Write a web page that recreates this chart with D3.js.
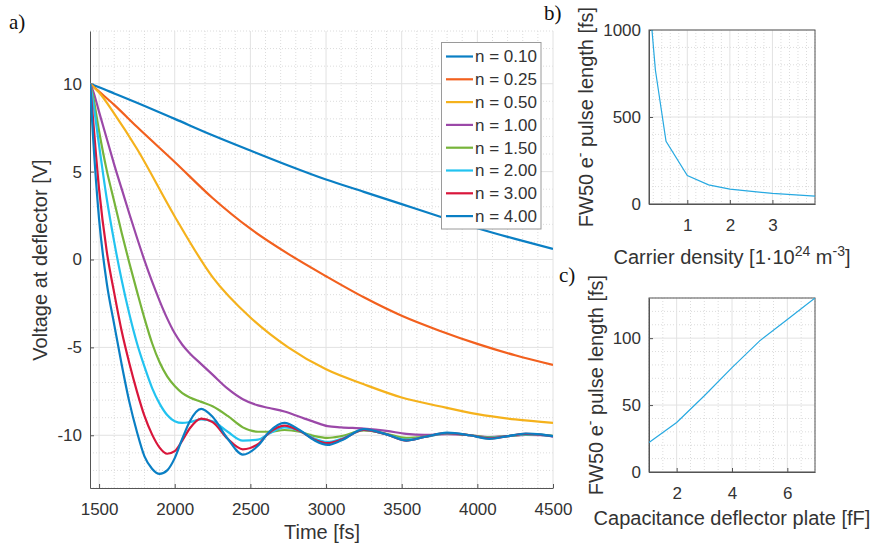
<!DOCTYPE html>
<html>
<head>
<meta charset="utf-8">
<script src="https://cdn.jsdelivr.net/npm/d3@7"></script>
<style>
  body { margin: 0; background: #fff; }
  svg { display: block; font-family: "Liberation Sans", Arial, Helvetica, sans-serif; }
</style>
</head>
<body>
<div id="chart"></div>
<script>
const W = 879, H = 553;

// ---- a) voltage at deflector vs time ----
const seriesLabels = ["n = 0.10", "n = 0.25", "n = 0.50", "n = 1.00", "n = 1.50", "n = 2.00", "n = 3.00", "n = 4.00"];
const seriesColors = ["#0a7fc4", "#f2601e", "#f5b21c", "#9b48a8", "#77b43a", "#22c3f0", "#d9163b", "#0a7fc4"];

// slow curves share this time grid
const timeSlow = [1440, 1500, 1600, 1750, 2000, 2250, 2500, 2750, 3000, 3250, 3500, 3750, 4000, 4250, 4500];
const v010 = [10, 9.8, 9.45, 8.92, 8.0, 7.07, 6.2, 5.35, 4.55, 3.85, 3.15, 2.45, 1.78, 1.17, 0.6];
const v025 = [10, 9.55, 8.8, 7.55, 5.55, 3.5, 1.75, 0.32, -0.95, -2.15, -3.2, -4.05, -4.8, -5.45, -6.0];
const v050 = [10, 9.5, 8.3, 6.3, 2.45, -1.0, -3.3, -5.0, -6.25, -7.1, -7.85, -8.35, -8.8, -9.1, -9.3];

// fast (ringing) curves share a denser grid
const timeFast = [1440, 1460, 1500, 1550, 1600, 1650, 1700, 1750, 1800, 1850, 1900, 1950, 2000, 2050, 2100,
  2175, 2250, 2350, 2450, 2550, 2625, 2725, 2825, 2925, 3010, 3100, 3250, 3400, 3530, 3650, 3800, 3950,
  4080, 4200, 4320, 4420, 4500];
const v100 = [10, 9.6, 8.4, 6.9, 5.4, 4.0, 2.6, 1.25, -0.05, -1.25, -2.35, -3.35, -4.2, -4.85, -5.35,
  -5.95, -6.55, -7.35, -7.95, -8.3, -8.45, -8.65, -8.95, -9.25, -9.48, -9.55, -9.62, -9.75, -9.92, -9.98, -9.93, -10.0,
  -10.1, -10.05, -9.98, -10.0, -10.08];
const v150 = [10, 9.3, 7.3, 5.1, 3.3, 1.5, -0.2, -1.8, -3.35, -4.75, -5.85, -6.65, -7.2, -7.6, -7.85,
  -8.1, -8.35, -8.9, -9.55, -9.8, -9.8, -9.7, -9.8, -10.05, -10.15, -10.05, -9.72, -9.92, -10.15, -10.08, -9.9, -10.0,
  -10.12, -10.05, -9.97, -9.98, -10.03];
const v200 = [10, 9.0, 6.5, 3.5, 1.0, -1.2, -3.1, -4.75, -6.1, -7.3, -8.2, -8.85, -9.2, -9.3, -9.25,
  -9.1, -9.2, -9.8, -10.3, -10.25, -9.9, -9.55, -9.75, -10.2, -10.38, -10.2, -9.7, -9.95, -10.25, -10.1, -9.9, -10.0,
  -10.15, -10.05, -9.95, -9.98, -10.05];
const v300 = [10, 8.0, 4.0, 0.5, -1.9, -4.1, -5.9, -7.5, -8.9, -9.95, -10.7, -11.05, -10.9, -10.3, -9.6,
  -9.05, -9.25, -10.2, -10.8, -10.5, -9.85, -9.45, -9.75, -10.25, -10.45, -10.25, -9.7, -9.95, -10.3, -10.1, -9.88, -10.0,
  -10.18, -10.05, -9.92, -9.97, -10.05];
const v400 = [10, 7.0, 2.3, -1.3, -3.7, -6.0, -8.1, -9.8, -11.2, -11.9, -12.2, -12.0, -11.3, -10.2, -9.2,
  -8.5, -8.95, -10.2, -11.1, -10.6, -9.8, -9.3, -9.7, -10.3, -10.55, -10.3, -9.65, -9.95, -10.3, -10.1, -9.85, -10.0,
  -10.2, -10.05, -9.9, -9.95, -10.05];

const seriesTimes = [timeSlow, timeSlow, timeSlow, timeFast, timeFast, timeFast, timeFast, timeFast];
const seriesValues = [v010, v025, v050, v100, v150, v200, v300, v400];

const timeTicks = [1500, 2000, 2500, 3000, 3500, 4000, 4500];
const voltTicks = [-10, -5, 0, 5, 10];

// ---- b) pulse length vs carrier density ----
const densityX = [0.1, 0.25, 0.5, 1, 1.5, 2, 3, 4];
const densityFW50 = [1200, 770, 360, 163, 110, 86, 61, 45];
const densityTicks = [1, 2, 3];
const densityYTicks = [0, 500, 1000];

// ---- c) pulse length vs capacitance ----
const capX = [1, 2, 3, 4, 5, 6, 7];
const capFW50 = [22, 37, 57, 78, 98, 114, 130];
const capTicks = [2, 4, 6];
const capYTicks = [0, 50, 100];

const svg = d3.select("#chart").append("svg")
  .attr("width", W).attr("height", H);

const textColor = "#333";
const axisColor = "#555";
const tickFont = 17;
const labelFont = 20;

function near(a, list) { return list.some(v => Math.abs(v - a) < 1e-6); }

function panel(opt) {
  const x = d3.scaleLinear().domain(opt.xDomain).range([opt.left, opt.right]);
  const y = d3.scaleLinear().domain(opt.yDomain).range([opt.bottom, opt.top]);
  const g = svg.append("g");

  // minor grid (dotted)
  const xMinor = d3.range(opt.xMinor[0], opt.xDomain[1] + 1e-9, opt.xMinor[1])
    .filter(v => v >= opt.xDomain[0] && !near(v, opt.xTicks));
  const yMinor = d3.range(opt.yMinor[0], opt.yDomain[1] + 1e-9, opt.yMinor[1])
    .filter(v => v >= opt.yDomain[0] && !near(v, opt.yTicks));
  g.selectAll(".xmin").data(xMinor).join("line")
    .attr("x1", d => x(d)).attr("x2", d => x(d))
    .attr("y1", opt.top).attr("y2", opt.bottom)
    .attr("stroke", "#dcdcdc").attr("stroke-dasharray", "1,2").attr("stroke-width", 1);
  g.selectAll(".ymin").data(yMinor).join("line")
    .attr("y1", d => y(d)).attr("y2", d => y(d))
    .attr("x1", opt.left).attr("x2", opt.right)
    .attr("stroke", "#dcdcdc").attr("stroke-dasharray", "1,2").attr("stroke-width", 1);

  // major grid
  g.selectAll(".xmaj").data(opt.xTicks).join("line")
    .attr("x1", d => x(d)).attr("x2", d => x(d))
    .attr("y1", opt.top).attr("y2", opt.bottom)
    .attr("stroke", "#e2e2e2").attr("stroke-width", 1);
  g.selectAll(".ymaj").data(opt.yTicks).join("line")
    .attr("y1", d => y(d)).attr("y2", d => y(d))
    .attr("x1", opt.left).attr("x2", opt.right)
    .attr("stroke", "#e2e2e2").attr("stroke-width", 1);

  const clipId = "clip" + opt.id;
  svg.append("clipPath").attr("id", clipId).append("rect")
    .attr("x", opt.left).attr("y", opt.top)
    .attr("width", opt.right - opt.left).attr("height", opt.bottom - opt.top);

  // plain hyphen minus, like the original figure
  const fmt = d => String(d);
  const xAxis = d3.axisBottom(x).tickValues(opt.xTicks).tickFormat(fmt)
    .tickSizeInner(-4).tickSizeOuter(0).tickPadding(15);
  const yAxis = d3.axisLeft(y).tickValues(opt.yTicks).tickFormat(fmt)
    .tickSizeInner(-4).tickSizeOuter(0).tickPadding(8);

  const gx = g.append("g").attr("transform", `translate(0,${opt.bottom})`).call(xAxis);
  const gy = g.append("g").attr("transform", `translate(${opt.left},0)`).call(yAxis);
  [gx, gy].forEach(a => {
    a.select(".domain").attr("stroke", axisColor);
    a.selectAll(".tick line").attr("stroke", axisColor);
    a.selectAll("text").attr("fill", textColor).attr("font-size", tickFont)
      .attr("font-family", "Liberation Sans, Arial, sans-serif");
  });

  if (opt.box) {
    g.append("rect")
      .attr("x", opt.left).attr("y", opt.top)
      .attr("width", opt.right - opt.left).attr("height", opt.bottom - opt.top)
      .attr("fill", "none").attr("stroke", axisColor).attr("stroke-width", 1);
  }
  return { x, y, g, clipId };
}

// ---------- panel a ----------
const pa = panel({
  id: "a", left: 90, right: 553, top: 31, bottom: 488,
  xDomain: [1440, 4500], yDomain: [-13, 13],
  xTicks: timeTicks, yTicks: voltTicks,
  xMinor: [1500, 100], yMinor: [-13, 1], box: false
});

const lineA = d3.line().x(d => pa.x(d[0])).y(d => pa.y(d[1])).curve(d3.curveMonotoneX);
const linesA = svg.append("g").attr("clip-path", `url(#${pa.clipId})`);
seriesValues.forEach((vals, i) => {
  const pts = vals.map((v, k) => [seriesTimes[i][k], v]);
  linesA.append("path").datum(pts)
    .attr("d", lineA)
    .attr("fill", "none")
    .attr("stroke", seriesColors[i])
    .attr("stroke-width", 2.2)
    .attr("stroke-linejoin", "round");
});

// legend
const leg = svg.append("g");
leg.append("rect")
  .attr("x", 441.5).attr("y", 42.5).attr("width", 99.5).attr("height", 186.5)
  .attr("fill", "#fff").attr("stroke", "#9a9a9a").attr("stroke-width", 1);
seriesLabels.forEach((lab, i) => {
  const yy = 56.5 + i * 22.8;
  leg.append("line").attr("x1", 446).attr("x2", 473).attr("y1", yy).attr("y2", yy)
    .attr("stroke", seriesColors[i]).attr("stroke-width", 2.2);
  leg.append("text").attr("x", 475).attr("y", yy).attr("dy", "0.35em")
    .attr("font-size", 17).attr("fill", textColor).text(lab);
});

svg.append("text").attr("x", 322).attr("y", 539).attr("text-anchor", "middle")
  .attr("font-size", labelFont).attr("fill", textColor).text("Time [fs]");
svg.append("text").attr("transform", "translate(47,260) rotate(-90)").attr("text-anchor", "middle")
  .attr("font-size", labelFont).attr("fill", textColor).text("Voltage at deflector [V]");

// ---------- panel b ----------
const pb = panel({
  id: "b", left: 649, right: 815, top: 30, bottom: 204,
  xDomain: [0.1, 4], yDomain: [0, 1000],
  xTicks: densityTicks, yTicks: densityYTicks,
  xMinor: [0.2, 0.2], yMinor: [0, 100], box: true
});
svg.append("path")
  .datum(densityX.map((d, i) => [d, densityFW50[i]]))
  .attr("clip-path", `url(#${pb.clipId})`)
  .attr("d", d3.line().x(d => pb.x(d[0])).y(d => pb.y(d[1])))
  .attr("fill", "none").attr("stroke", "#27a9e1").attr("stroke-width", 1.2);

const bx = svg.append("text").attr("x", 732).attr("y", 264).attr("text-anchor", "middle")
  .attr("font-size", labelFont).attr("fill", textColor);
bx.append("tspan").text("Carrier density [1\u00b710");
bx.append("tspan").attr("dy", -8).attr("font-size", 14).text("24");
bx.append("tspan").attr("dy", 8).text(" m");
bx.append("tspan").attr("dy", -8).attr("font-size", 14).text("-3");
bx.append("tspan").attr("dy", 8).text("]");

function fwLabel(tx, ty) {
  const t = svg.append("text").attr("transform", `translate(${tx},${ty}) rotate(-90)`)
    .attr("text-anchor", "middle").attr("font-size", labelFont).attr("fill", textColor);
  t.append("tspan").text("FW50 e");
  t.append("tspan").attr("dy", -8).attr("font-size", 14).text("-");
  t.append("tspan").attr("dy", 8).text(" pulse length [fs]");
}
fwLabel(593, 117);

// ---------- panel c ----------
const pc = panel({
  id: "c", left: 649, right: 815, top: 298, bottom: 472,
  xDomain: [1, 7], yDomain: [0, 130],
  xTicks: capTicks, yTicks: capYTicks,
  xMinor: [1, 0.5], yMinor: [0, 10], box: true
});
svg.append("path")
  .datum(capX.map((d, i) => [d, capFW50[i]]))
  .attr("clip-path", `url(#${pc.clipId})`)
  .attr("d", d3.line().x(d => pc.x(d[0])).y(d => pc.y(d[1])))
  .attr("fill", "none").attr("stroke", "#27a9e1").attr("stroke-width", 1.2);

svg.append("text").attr("x", 732).attr("y", 525).attr("text-anchor", "middle")
  .attr("font-size", labelFont).attr("fill", textColor).text("Capacitance deflector plate [fF]");
fwLabel(603, 385);

// panel letters
const serif = "Liberation Serif, Times New Roman, serif";
svg.append("text").attr("x", 9).attr("y", 29).attr("font-family", serif).attr("font-size", 21).attr("fill", "#111").text("a)");
svg.append("text").attr("x", 544).attr("y", 20).attr("font-family", serif).attr("font-size", 21).attr("fill", "#111").text("b)");
svg.append("text").attr("x", 559).attr("y", 282).attr("font-family", serif).attr("font-size", 21).attr("fill", "#111").text("c)");
</script>
</body>
</html>
